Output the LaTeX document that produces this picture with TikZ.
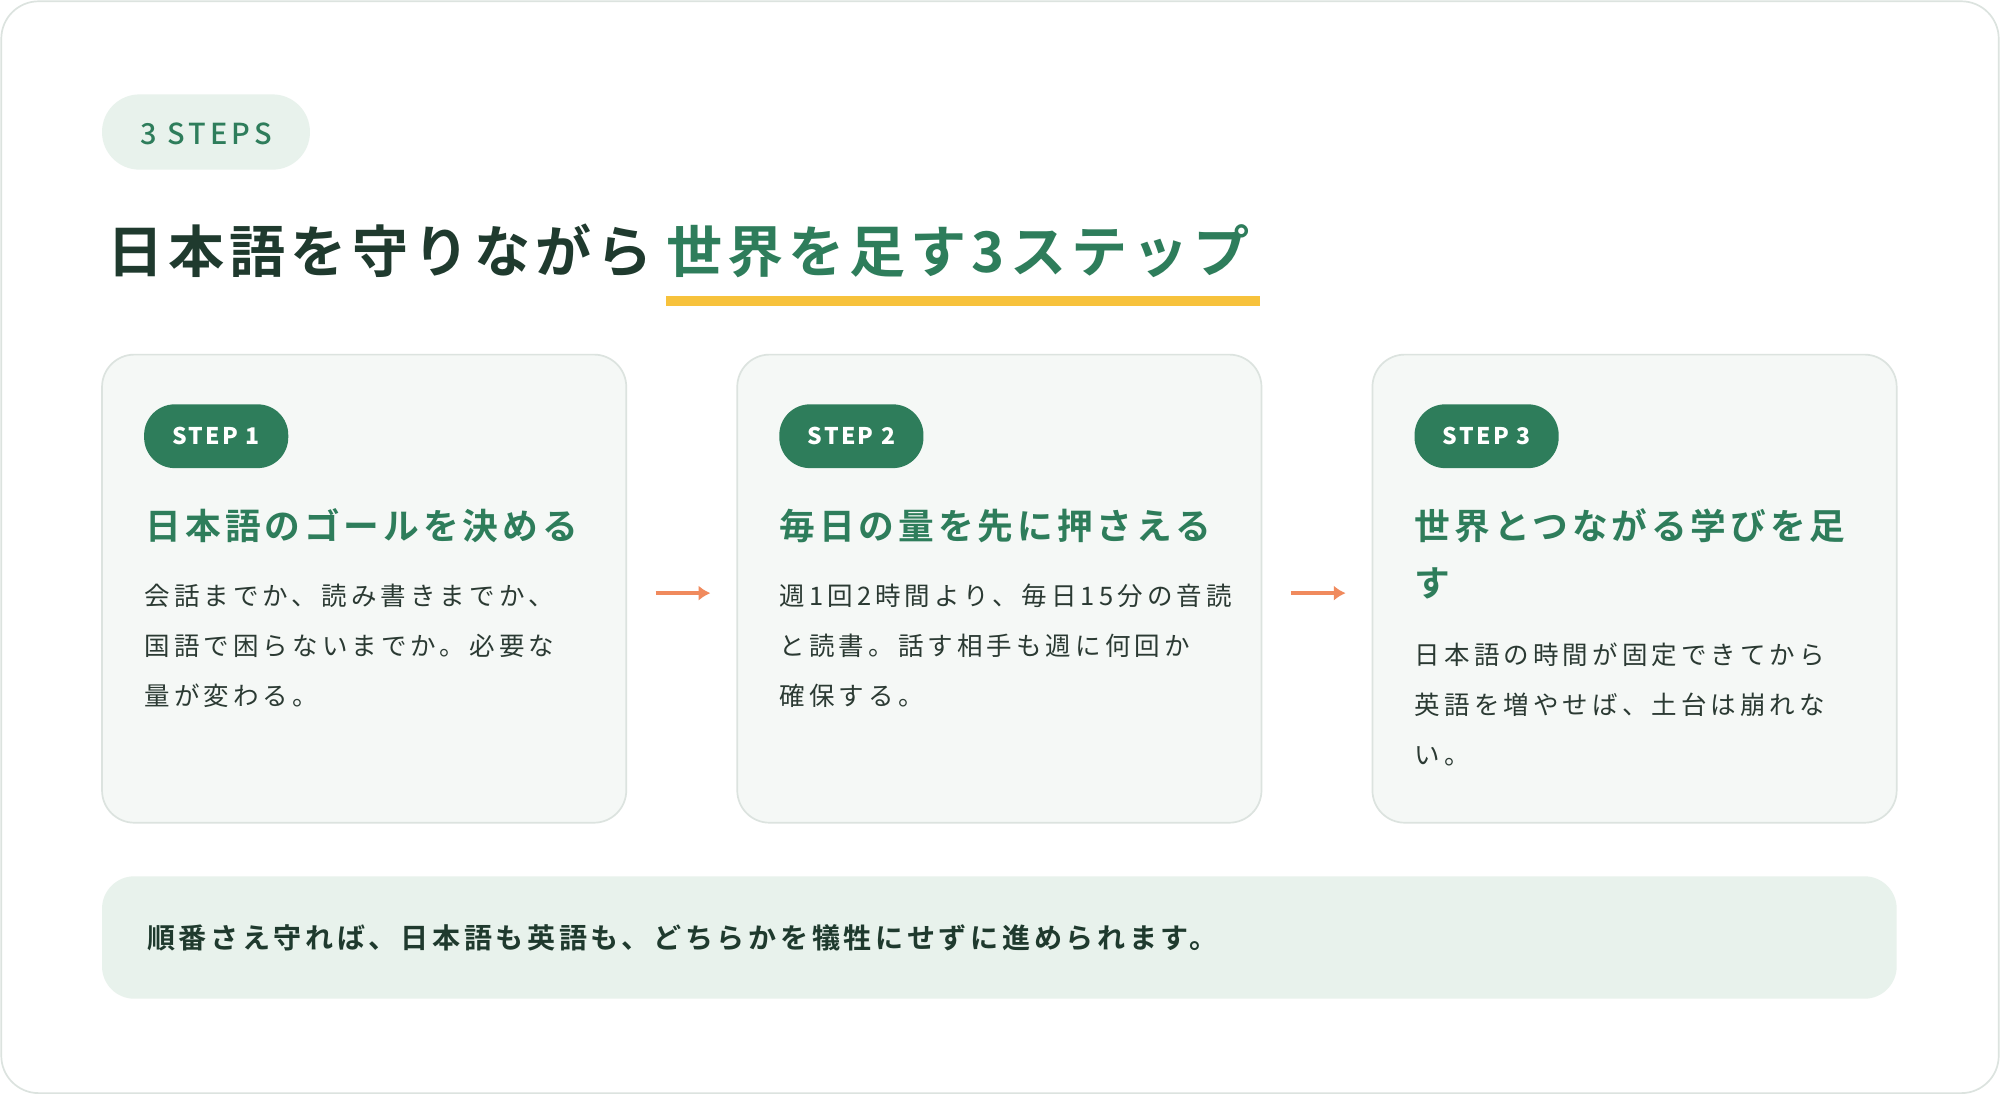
\documentclass[tikz,border=0pt]{standalone}
\usepackage{fontspec}
\setmainfont{Noto Sans CJK JP}
\newfontfamily\jpbT[LetterSpace=9]{Noto Sans CJK JP Bold}
\newfontfamily\jpbH[LetterSpace=11]{Noto Sans CJK JP Bold}
\newfontfamily\jpB[LetterSpace=16]{Noto Sans CJK JP}
\newfontfamily\jpbBot[LetterSpace=13]{Noto Sans CJK JP Bold}
\newfontfamily\jpbS[LetterSpace=10]{Noto Sans CJK JP Black}
\newfontfamily\jpTag[LetterSpace=14]{Noto Sans CJK JP Medium}
\usetikzlibrary{arrows.meta}
\begin{document}
\definecolor{gr}{HTML}{2E7D5B}
\definecolor{dk}{HTML}{1F3A2E}
\definecolor{lg}{HTML}{E8F2EC}
\definecolor{cardf}{HTML}{F5F8F6}
\definecolor{cards}{HTML}{DCE3DF}
\definecolor{yl}{HTML}{F7C23C}
\definecolor{org}{HTML}{F08A5D}
\definecolor{tx}{HTML}{2B3A33}
\begin{tikzpicture}[x=0.75pt,y=-0.75pt,
 card/.style={draw=cards,line width=1pt,fill=cardf,rounded corners=19pt},
 pill/.style={fill=gr,rounded corners=18pt},
 pt/.style={text=white,font=\jpbS\fontsize{13.5}{15}\selectfont,anchor=center},
 hd/.style={text=gr,font=\jpbH\fontsize{21}{24}\selectfont,anchor=base west,inner sep=0},
 bd/.style={text=tx,font=\jpB\fontsize{15}{18}\selectfont,anchor=base west,inner sep=0},
 arr/.style={draw=org,line width=2.5pt,-{Latex[length=7pt,width=9pt]}}]
\path[use as bounding box] (0,0) rectangle (1568,858);
\draw[draw=cards,fill=white,rounded corners=22pt,line width=1pt] (1,1) rectangle (1567,857);
% top pill
\fill[lg,rounded corners=22pt] (80,74) rectangle (243,133);
\node[text=gr,font=\jpTag\fontsize{17}{18}\selectfont] (tag) at (161.5,105) {3 STEPS};
% title
\fill[yl] (522,232) rectangle (988,240);
\node[anchor=base west,inner sep=0,font=\jpbT\fontsize{33}{36}\selectfont,text=dk] (t1) at (84,214) {日本語を守りながら};
\node[anchor=base west,inner sep=0,font=\jpbT\fontsize{33}{36}\selectfont,text=gr] (t2) at (522,214) {世界を足す3ステップ};
% cards
\foreach \x/\n in {80/1,578/2,1076/3}{
 \draw[card] (\x,278) rectangle (\x+411,645);
 \fill[pill] (\x+33,317) rectangle (\x+146,367);
 \node[pt] (p\n) at (\x+89.5,342) {STEP \n};
}
\node[hd] (h1) at (114,423) {日本語のゴールを決める};
\node[bd] (b11) at (113,475) {会話までか、読み書きまでか、};
\node[bd] (b12) at (113,514) {国語で困らないまでか。必要な};
\node[bd] (b13) at (113,553) {量が変わる。};
\node[hd] (h2) at (611,423) {毎日の量を先に押さえる};
\node[bd] (b21) at (611,475) {週1回2時間より、毎日15分の音読};
\node[bd] (b22) at (611,514) {と読書。話す相手も週に何回か};
\node[bd] (b23) at (611,553) {確保する。};
\node[hd] (h3) at (1109,423) {世界とつながる学びを足};
\node[hd] (h3b) at (1109,468) {す};
\node[bd] (b31) at (1109,521) {日本語の時間が固定できてから};
\node[bd] (b32) at (1109,560) {英語を増やせば、土台は崩れな};
\node[bd] (b33) at (1109,599) {い。};
\coordinate (a1s) at (514,465); \coordinate (a1e) at (557,465);
\coordinate (a2s) at (1012,465); \coordinate (a2e) at (1055,465);
\draw[arr] (a1s) -- (a1e);
\draw[arr] (a2s) -- (a2e);
% bottom
\fill[lg,rounded corners=19pt] (80,687) rectangle (1487,783);
\node[anchor=base west,inner sep=0,text=dk,font=\jpbBot\fontsize{16.5}{18}\selectfont] (bt) at (115,744) {順番さえ守れば、日本語も英語も、どちらかを犠牲にせずに進められます。};
\end{tikzpicture}
\end{document}
